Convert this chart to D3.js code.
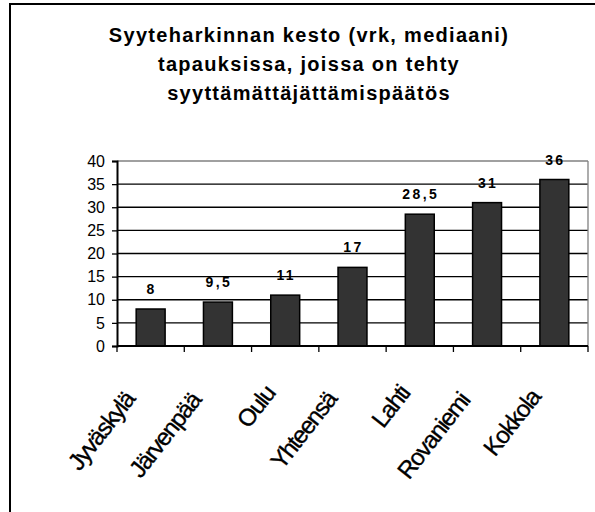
<!DOCTYPE html>
<html>
<head>
<meta charset="utf-8">
<script src="https://cdn.jsdelivr.net/npm/d3@7"></script>
<style>
  body { margin: 0; background: #fff; }
  svg { display: block; font-family: Arial, "Liberation Sans", sans-serif; }
</style>
</head>
<body>
<svg id="chart"></svg>
<script>
var categories = ['Jyväskylä', 'Järvenpää', 'Oulu', 'Yhteensä', 'Lahti', 'Rovaniemi', 'Kokkola'];
var values = [8, 9.5, 11, 17, 28.5, 31, 36];
var valueLabels = ['8', '9,5', '11', '17', '28,5', '31', '36'];
var yTicks = [0, 5, 10, 15, 20, 25, 30, 35, 40];
var titleLines = ['Syyteharkinnan kesto (vrk, mediaani)', 'tapauksissa, joissa on tehty', 'syyttämättäjättämispäätös'];

var width = 595, height = 512;
var plot = { left: 117, right: 588, top: 161, bottom: 346 };

var svg = d3.select('#chart')
    .attr('width', width)
    .attr('height', height);

// outer chart border, cut off at right and bottom like the picture
svg.append('rect')
    .attr('x', 10).attr('y', 4)
    .attr('width', 640).attr('height', 560)
    .attr('fill', 'none')
    .attr('stroke', '#000')
    .attr('stroke-width', 2);

// title
svg.append('g').selectAll('text')
    .data(titleLines)
    .enter()
    .append('text')
    .attr('x', 309)
    .attr('y', function(d, i) { return 42 + i * 29; })
    .attr('text-anchor', 'middle')
    .attr('font-size', 20)
    .attr('font-weight', 'bold')
    .attr('letter-spacing', 1.3)
    .text(function(d) { return d; });

var x = d3.scaleBand()
    .domain(categories)
    .range([plot.left, plot.right])
    .paddingInner(0.57)
    .paddingOuter(0.285);

var y = d3.scaleLinear()
    .domain([0, 40])
    .range([plot.bottom, plot.top]);

// gridlines
svg.append('g').selectAll('line')
    .data(yTicks.filter(function(d) { return d > 0; }))
    .enter()
    .append('line')
    .attr('x1', plot.left).attr('x2', plot.right)
    .attr('y1', function(d) { return y(d); })
    .attr('y2', function(d) { return y(d); })
    .attr('stroke', function(d) { return d === 40 ? '#808080' : '#000'; })
    .attr('stroke-width', 1.3);

// right border of plot area
svg.append('line')
    .attr('x1', plot.right).attr('x2', plot.right)
    .attr('y1', plot.top).attr('y2', plot.bottom)
    .attr('stroke', '#808080')
    .attr('stroke-width', 1.3);

// bars
svg.append('g').selectAll('rect')
    .data(values)
    .enter()
    .append('rect')
    .attr('x', function(d, i) { return x(categories[i]); })
    .attr('y', function(d) { return y(d); })
    .attr('width', x.bandwidth())
    .attr('height', function(d) { return y(0) - y(d); })
    .attr('fill', '#333333')
    .attr('stroke', '#000')
    .attr('stroke-width', 1.5);

// value labels
svg.append('g').selectAll('text')
    .data(values)
    .enter()
    .append('text')
    .attr('x', function(d, i) { return x(categories[i]) + x.bandwidth() / 2 + 1; })
    .attr('y', function(d) { return y(d) - 15; })
    .attr('text-anchor', 'middle')
    .attr('font-size', 14)
    .attr('font-weight', 'bold')
    .attr('letter-spacing', 2.4)
    .text(function(d, i) { return valueLabels[i]; });

// y axis
var yAxis = svg.append('g')
    .attr('transform', 'translate(' + plot.left + ',0)')
    .call(d3.axisLeft(y).tickValues(yTicks).tickSize(5).tickPadding(7));
yAxis.select('.domain').attr('stroke', '#000').attr('stroke-width', 2);
yAxis.selectAll('.tick line').attr('stroke', '#000').attr('stroke-width', 1.3);
yAxis.selectAll('.tick text')
    .attr('font-size', 16)
    .attr('font-family', 'Arial, "Liberation Sans", sans-serif')
    .attr('fill', '#000');

// x axis: ticks between categories
var step = x.step();
svg.append('line')
    .attr('x1', plot.left).attr('x2', plot.right)
    .attr('y1', plot.bottom).attr('y2', plot.bottom)
    .attr('stroke', '#000')
    .attr('stroke-width', 2);
svg.append('g').selectAll('line')
    .data(d3.range(categories.length + 1))
    .enter()
    .append('line')
    .attr('x1', function(i) { return plot.left + i * step; })
    .attr('x2', function(i) { return plot.left + i * step; })
    .attr('y1', plot.bottom)
    .attr('y2', plot.bottom + 6)
    .attr('stroke', '#000')
    .attr('stroke-width', 1.3);

// rotated category labels, tightly set like the picture
var catLabels = svg.append('g').selectAll('text')
    .data(categories)
    .enter()
    .append('text')
    .attr('text-anchor', 'end')
    .attr('font-size', 24)
    .attr('letter-spacing', -1.4)
    .attr('stroke', '#000')
    .attr('stroke-width', 0.35)
    .text(function(d) { return d; });

catLabels.attr('transform', function(d) {
    var w = this.getComputedTextLength();
    var cx = x(d) + x.bandwidth() / 2 - 3 - 0.13 * w;
    var cy = plot.bottom + 42 + 0.13 * w;
    return 'translate(' + cx + ',' + cy + ') rotate(-52)';
});
</script>
</body>
</html>
